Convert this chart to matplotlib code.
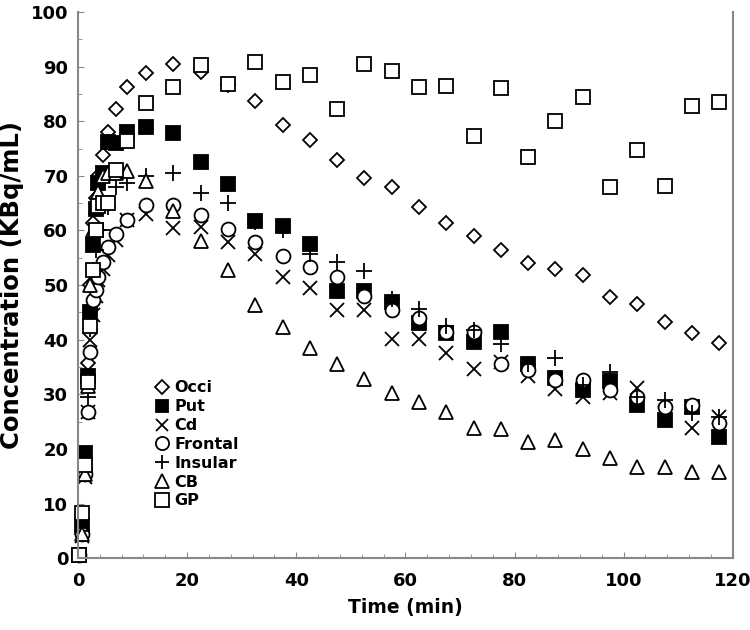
import matplotlib
matplotlib.use("Agg")
import matplotlib.pyplot as plt
from matplotlib.ticker import MultipleLocator

plt.rcParams['font.family'] = ['DejaVu Sans']
plt.rcParams['font.weight'] = 'bold'

# frame mid-times (min)
t_early = [0.25, 0.75, 1.25, 1.75, 2.25, 2.75, 3.25, 3.75, 4.5, 5.5, 7, 9]
t_late = [12.5, 17.5, 22.5, 27.5, 32.5, 37.5, 42.5, 47.5, 52.5, 57.5, 62.5,
          67.5, 72.5, 77.5, 82.5, 87.5, 92.5, 97.5, 102.5, 107.5, 112.5, 117.5]
time = t_early + t_late

# regional concentrations (KBq/mL)
occi = [0.5, 4.5, 16, 35.7, 50, 61.3, 66, 70, 73.8, 78, 82.2, 86.3,
        88.9, 90.4, 89.0, 86.6, 83.7, 79.3, 76.6, 72.9, 69.6, 67.9, 64.3,
        61.4, 59.0, 56.4, 54.1, 52.9, 51.8, 47.9, 46.5, 43.2, 41.3, 39.4]
put = [0.5, 6, 19.2, 33.3, 45, 57.3, 64, 68.6, 70.5, 76.2, 76, 78.1,
       79, 77.9, 72.6, 68.5, 61.8, 60.8, 57.6, 49, 49, 46.9, 43,
       41.3, 39.6, 41.5, 35.5, 33, 30.8, 32.4, 28, 25.3, 27.7, 22.2]
cd = [0.5, 4, 14.9, 26.7, 39.9, 44.5, 48, 51, 53, 55.5, 58.2, 62,
      63, 60.4, 60.7, 57.9, 55.7, 51.5, 49.4, 45.4, 45.4, 40.2, 40.1,
      37.6, 34.6, 36, 33.4, 30.9, 29.5, 30.3, 31.1, 26.5, 23.8, 25.9]
frontal = [0.5, 4.5, 15.5, 26.7, 37.8, 47.3, 49.1, 51.5, 54.3, 57, 59.3, 62,
           64.7, 64.6, 62.9, 60.2, 57.9, 55.3, 53.4, 51.4, 48, 45.5, 43.9,
           41.5, 41.4, 35.5, 34.5, 32.6, 32.6, 30.8, 29.5, 27.7, 28, 24.7]
insular = [0.5, 5, 16.5, 29.6, 42, 52.7, 56.5, 60, 60, 64.3, 68, 68.6,
           70, 70.5, 66.9, 65, 61.5, 60, 55.7, 54.2, 52.6, 47.5, 45.7,
           42.5, 41.8, 39.3, 35.5, 36.6, 31.7, 34.1, 29.5, 28.9, 26.5, 25.9]
cb = [0.5, 4.5, 15.5, 31.5, 50, 60, 64.3, 67, 70, 70.5, 70.5, 70.8,
      69, 63.5, 58.1, 52.7, 46.3, 42.3, 38.5, 35.5, 32.8, 30.3, 28.6,
      26.7, 23.9, 23.6, 21.2, 21.6, 19.9, 18.3, 16.7, 16.7, 15.8, 15.7]
gp = [0.5, 8.3, 17, 32.3, 42.5, 52.7, 60, 64.5, 65, 65, 71, 76.4,
      83.3, 86.3, 90.3, 86.9, 90.9, 87.2, 88.5, 82.2, 90.4, 89.2, 86.3,
      86.4, 77.3, 86.1, 73.5, 80.1, 84.5, 68, 74.7, 68.2, 82.7, 83.6]

labels = ['Occi', 'Put', 'Cd', 'Frontal', 'Insular', 'CB', 'GP']
series = [occi, put, cd, frontal, insular, cb, gp]
markers = ['D', 's', 'x', 'o', '+', '^', 's']
sizes = [7.5, 9.5, 9.5, 10, 11, 10, 10]
fills = ['white', 'black', 'none', 'white', 'none', 'white', 'white']

fig = plt.figure(figsize=(7.5, 6.3), dpi=100)
ax = fig.add_axes([0.104, 0.114, 0.873, 0.867])

for lab, y, m, s, fc in zip(labels, series, markers, sizes, fills):
    ax.plot(time, y, linestyle='none', marker=m, markersize=s,
            markerfacecolor=fc, markeredgecolor='black', markeredgewidth=1.3,
            color='black', label=lab, clip_on=False)

ax.set_xlim(0, 120)
ax.set_ylim(0, 100)
ax.xaxis.set_major_locator(MultipleLocator(20))
ax.yaxis.set_major_locator(MultipleLocator(10))
ax.xaxis.set_minor_locator(MultipleLocator(4))
ax.yaxis.set_minor_locator(MultipleLocator(5))
ax.tick_params(which='major', direction='in', length=4, color='#888888',
               labelsize=13)
ax.tick_params(axis='x', which='major', pad=10)
ax.tick_params(axis='y', which='major', pad=7)
ax.tick_params(which='minor', direction='in', length=3, color='#888888')
for lbl in ax.get_xticklabels() + ax.get_yticklabels():
    lbl.set_fontweight('bold')

for side in ['left', 'bottom', 'right']:
    ax.spines[side].set_color('#888888')
    ax.spines[side].set_linewidth(1.5)
ax.spines['top'].set_visible(False)

ax.set_xlabel('Time (min)', fontsize=13.5, fontweight='bold', labelpad=6)
ax.set_ylabel('Concentration (KBq/mL)', fontsize=17.5, fontweight='bold', labelpad=5)

leg = ax.legend(loc='lower left', bbox_to_anchor=(0.115, 0.091), frameon=False,
                prop={'size': 11.5, 'weight': 'bold'}, handletextpad=0.2,
                labelspacing=0.24, handlelength=1.1, borderaxespad=0,
                borderpad=0, markerscale=0.95)

fig.savefig('out.png', dpi=100)
